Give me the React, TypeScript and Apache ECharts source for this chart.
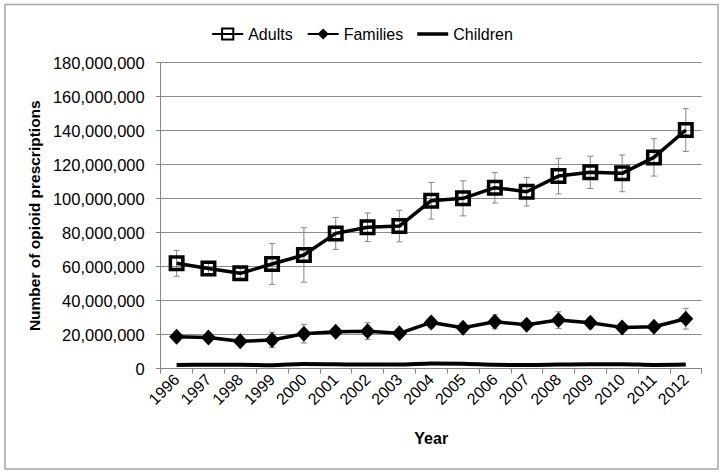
import React, { useEffect, useRef } from "react";
import * as echarts from "echarts";

const years = ["1996","1997","1998","1999","2000","2001","2002","2003","2004","2005","2006","2007","2008","2009","2010","2011","2012"];
const adults = [62000000,59000000,56100000,61600000,66900000,79600000,83200000,83900000,98800000,100200000,106500000,104100000,113300000,115500000,114900000,124300000,140400000];
const adultsErr = [7600000,3500000,3000000,12000000,16000000,9400000,8400000,9300000,10800000,10300000,9000000,8400000,10500000,9500000,10800000,11000000,12600000];
const families = [18800000,18400000,16100000,16900000,20600000,21800000,22100000,20800000,27200000,24100000,27600000,25900000,28600000,27000000,24300000,24700000,29400000];
const familiesErr = [2000000,1500000,1500000,4500000,5500000,2000000,4900000,1500000,3000000,2000000,4100000,2500000,4900000,3000000,2000000,2500000,6100000];
const children = [2200000,2300000,2300000,2100000,2800000,2600000,2400000,2400000,3000000,2900000,2300000,2200000,2400000,2600000,2600000,2200000,2400000];

const FONT = "Liberation Sans";

function errData(vals: number[], errs: number[]) {
  return vals.map((v, i) => [i, v - errs[i], v + errs[i]]);
}

function renderErr(params: any, api: any) {
  const i = api.value(0);
  const lo = api.coord([i, api.value(1)]);
  const hi = api.coord([i, api.value(2)]);
  const cw = 3;
  const st = { stroke: "#858585", lineWidth: 1 };
  return {
    type: "group",
    children: [
      { type: "line", shape: { x1: hi[0], y1: hi[1], x2: lo[0], y2: lo[1] }, style: st },
      { type: "line", shape: { x1: hi[0] - cw, y1: hi[1], x2: hi[0] + cw, y2: hi[1] }, style: st },
      { type: "line", shape: { x1: lo[0] - cw, y1: lo[1], x2: lo[0] + cw, y2: lo[1] }, style: st },
    ],
  };
}

export default function App() {
  const ref = useRef<HTMLDivElement>(null);
  useEffect(() => {
    if (!ref.current) return;
    const chart = echarts.init(ref.current, null, { renderer: "svg" });
    chart.setOption({
      animation: false,
      backgroundColor: "#ffffff",
      textStyle: { fontFamily: FONT },
      graphic: [
        {
          type: "rect",
          shape: { x: 5, y: 4.5, width: 713, height: 464.5 },
          style: { fill: "none", stroke: "#a6a6a6", lineWidth: 1.5 },
          silent: true,
        },
      ],
      legend: {
        top: 21,
        left: "center",
        itemWidth: 31,
        itemHeight: 14,
        itemGap: 14,
        data: [
          "Adults",
          "Families",
          { name: "Children", icon: "path://M0,0H31V3.5H0Z" },
        ],
        textStyle: { fontFamily: FONT, fontSize: 16, color: "#000" },
      },
      grid: { left: 160.7, right: 22.3, top: 62.7, bottom: 105.3 },
      xAxis: {
        type: "category",
        data: years,
        name: "Year",
        nameLocation: "middle",
        nameGap: 62,
        nameTextStyle: { fontFamily: FONT, fontSize: 16, fontWeight: "bold", color: "#000" },
        axisLine: { lineStyle: { color: "#868686", width: 1 } },
        axisTick: { show: true, length: 5, lineStyle: { color: "#868686" } },
        axisLabel: { rotate: 45, fontFamily: FONT, fontSize: 16, color: "#000", margin: 8, interval: 0 },
      },
      yAxis: {
        type: "value",
        min: 0,
        max: 180000000,
        interval: 20000000,
        name: "Number of opioid prescriptions",
        nameLocation: "middle",
        nameGap: 114,
        nameTextStyle: { fontFamily: FONT, fontSize: 15.5, fontWeight: "bold", color: "#000" },
        axisLine: { show: true, lineStyle: { color: "#868686", width: 1 } },
        axisTick: { show: true, length: 5, lineStyle: { color: "#868686" } },
        splitLine: { lineStyle: { color: "#8c8c8c", width: 1 } },
        axisLabel: {
          fontFamily: FONT,
          fontSize: 16.5,
          color: "#000",
          margin: 16,
          formatter: (v: number) => v.toLocaleString("en-US"),
        },
      },
      series: [
        {
          type: "custom",
          name: "adultsErr",
          renderItem: renderErr,
          data: errData(adults, adultsErr),
          encode: { x: 0, y: [1, 2] },
          z: 1,
          silent: true,
        },
        {
          type: "custom",
          name: "familiesErr",
          renderItem: renderErr,
          data: errData(families, familiesErr),
          encode: { x: 0, y: [1, 2] },
          z: 1,
          silent: true,
        },
        {
          name: "Adults",
          type: "line",
          data: adults,
          symbol: "rect",
          symbolSize: 12.5,
          lineStyle: { color: "#000", width: 3.5 },
          itemStyle: { color: "rgba(255,255,255,0)", borderColor: "#000", borderWidth: 3.5 },
          z: 3,
        },
        {
          name: "Families",
          type: "line",
          data: families,
          symbol: "diamond",
          symbolSize: [15, 16],
          lineStyle: { color: "#000", width: 3.5 },
          itemStyle: { color: "#000", borderColor: "#000", borderWidth: 0 },
          z: 3,
        },
        {
          name: "Children",
          type: "line",
          data: children,
          symbol: "none",
          smooth: 0.3,
          lineStyle: { color: "#000", width: 4 },
          itemStyle: { color: "#000" },
          z: 3,
        },
      ],
    });
    return () => chart.dispose();
  }, []);
  return (
    <div
      ref={ref}
      style={{ position: "absolute", left: 0, top: 0, width: 724, height: 474, background: "#fff" }}
    />
  );
}
